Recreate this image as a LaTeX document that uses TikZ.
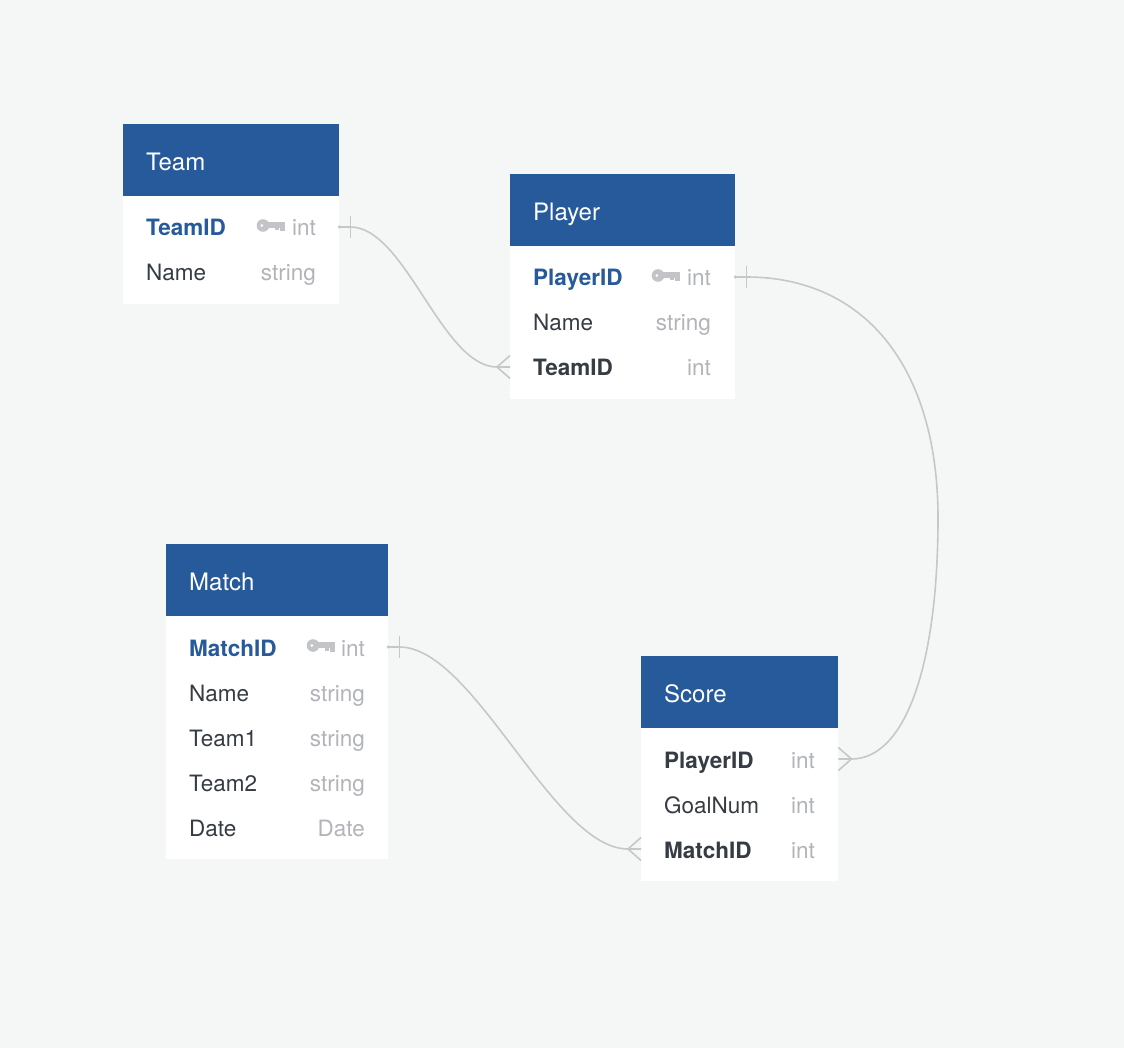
\documentclass[tikz,border=0pt]{standalone}
\usepackage{fontspec}
\setmainfont{TeX Gyre Heros}
\usetikzlibrary{calc}
\definecolor{bg}{HTML}{F5F6F6}
\definecolor{hblue}{HTML}{265A9B}
\definecolor{dark}{HTML}{363C44}
\definecolor{tgray}{HTML}{B1B4B9}
\definecolor{kgray}{HTML}{C2C4C8}
\definecolor{lgray}{HTML}{C6C7C7}
\tikzset{
  pics/keyicon/.style={code={
    \fill[kgray, even odd rule] (0,0) circle (6.3) (-1.2,0) circle (1.7);
    \fill[kgray] (3,-3.8) rectangle (21.8,2.2);
    \fill[kgray] (17.3,0) rectangle (21.8,6);
    \fill[kgray] (12,0) rectangle (16,5);
  }}
}
\begin{document}
\begin{tikzpicture}[x=1pt,y=-1pt,
  hdr/.style={fill=hblue, draw=none, inner sep=0, anchor=north west, minimum height=72},
  tbody/.style={fill=white, draw=none, inner sep=0, anchor=north west},
  title/.style={anchor=base west, inner sep=0, text=white, font=\fontsize{24}{28}\selectfont},
  pkf/.style={anchor=base west, inner sep=0, text=hblue, font=\fontsize{22.5}{26}\selectfont\bfseries},
  fkf/.style={anchor=base west, inner sep=0, text=dark, font=\fontsize{22.5}{26}\selectfont\bfseries},
  fld/.style={anchor=base west, inner sep=0, text=dark, font=\fontsize{22.5}{26}\selectfont},
  typ/.style={anchor=base east, inner sep=0, text=tgray, font=\fontsize{22.5}{26}\selectfont},
  rel/.style={draw=lgray, line width=1.6pt},
  reldot/.style={fill=lgray, draw=none}
]
\useasboundingbox (0,0) rectangle (1124,1048);
\fill[bg] (0,0) rectangle (1124,1048);

% ---------- Team ----------
\node[hdr, minimum width=216] (teamH) at (123,124) {};
\node[tbody, minimum width=216, minimum height=108] (teamB) at (123,196) {};
\node[title] (teamT) at (146,170.5) {Team};
\node[pkf] (teamF1) at (146,236) {TeamID};
\pic at (263,225.5) {keyicon};
\node[typ] (teamY1) at (316,236) {int};
\node[fld] (teamF2) at (146,281) {Name};
\node[typ] (teamY2) at (316,281) {string};

% ---------- Player ----------
\node[hdr, minimum width=225] (playerH) at (510,174) {};
\node[tbody, minimum width=225, minimum height=153] (playerB) at (510,246) {};
\node[title] (playerT) at (533,220.5) {Player};
\node[pkf] (playerF1) at (533,286) {PlayerID};
\pic at (658,275.5) {keyicon};
\node[typ] (playerY1) at (711,286) {int};
\node[fld] (playerF2) at (533,331) {Name};
\node[typ] (playerY2) at (711,331) {string};
\node[fkf] (playerF3) at (533,376) {TeamID};
\node[typ] (playerY3) at (711,376) {int};

% ---------- Match ----------
\node[hdr, minimum width=222] (matchH) at (166,544) {};
\node[tbody, minimum width=222, minimum height=243] (matchB) at (166,616) {};
\node[title] (matchT) at (189,590.5) {Match};
\node[pkf] (matchF1) at (189,656) {MatchID};
\pic at (313,645.5) {keyicon};
\node[typ] (matchY1) at (365,656) {int};
\node[fld] (matchF2) at (189,701) {Name};
\node[typ] (matchY2) at (365,701) {string};
\node[fld] (matchF3) at (189,746) {Team1};
\node[typ] (matchY3) at (365,746) {string};
\node[fld] (matchF4) at (189,791) {Team2};
\node[typ] (matchY4) at (365,791) {string};
\node[fld] (matchF5) at (189,836) {Date};
\node[typ] (matchY5) at (365,836) {Date};

% ---------- Score ----------
\node[hdr, minimum width=197] (scoreH) at (641,656) {};
\node[tbody, minimum width=197, minimum height=153] (scoreB) at (641,728) {};
\node[title] (scoreT) at (664,702.5) {Score};
\node[fkf] (scoreF1) at (664,768) {PlayerID};
\node[typ] (scoreY1) at (815,768) {int};
\node[fld] (scoreF2) at (664,813) {GoalNum};
\node[typ] (scoreY2) at (815,813) {int};
\node[fkf] (scoreF3) at (664,858) {MatchID};
\node[typ] (scoreY3) at (815,858) {int};

% ---------- anchor points ----------
\coordinate (teamIDr) at ($(teamB.north east)+(0,31)$);
\coordinate (pTeamL) at ($(playerB.north west)+(0,121)$);
\coordinate (pIDr) at ($(playerB.north east)+(0,31)$);
\coordinate (sPidR) at ($(scoreB.north east)+(0,31)$);
\coordinate (mIDr) at ($(matchB.north east)+(0,31)$);
\coordinate (sMidL) at ($(scoreB.north west)+(0,121)$);
\coordinate (bend) at (938,518);

% ---------- Team.TeamID -> Player.TeamID ----------
\draw[rel] (teamIDr) -- ($(teamIDr)+(11,0)$) .. controls +(55,0) and +(-55,0) .. ($(pTeamL)+(-13,0)$) -- (pTeamL);
\fill[reldot] (teamIDr) circle (1.8);
\draw[rel] ($(teamIDr)+(11,-11)$) -- ($(teamIDr)+(11,11)$);
\draw[rel] ($(pTeamL)+(0,-11.5)$) -- ($(pTeamL)+(-13,0)$) -- ($(pTeamL)+(0,11.5)$);

% ---------- Player.PlayerID -> Score.PlayerID ----------
\draw[rel] (pIDr) -- ($(pIDr)+(11,0)$) .. controls +(119,0) and +(0,-150) .. (bend)
  .. controls +(0,150) and +(53,0) .. ($(sPidR)+(13,0)$) -- (sPidR);
\fill[reldot] (pIDr) circle (1.8);
\draw[rel] ($(pIDr)+(11,-11)$) -- ($(pIDr)+(11,11)$);
\draw[rel] ($(sPidR)+(0,-11.5)$) -- ($(sPidR)+(13,0)$) -- ($(sPidR)+(0,11.5)$);

% ---------- Match.MatchID -> Score.MatchID ----------
\draw[rel] (mIDr) -- ($(mIDr)+(11,0)$) .. controls +(75,0) and +(-75,0) .. ($(sMidL)+(-13,0)$) -- (sMidL);
\fill[reldot] (mIDr) circle (1.8);
\draw[rel] ($(mIDr)+(11,-11)$) -- ($(mIDr)+(11,11)$);
\draw[rel] ($(sMidL)+(0,-11.5)$) -- ($(sMidL)+(-13,0)$) -- ($(sMidL)+(0,11.5)$);
\end{tikzpicture}
\end{document}
